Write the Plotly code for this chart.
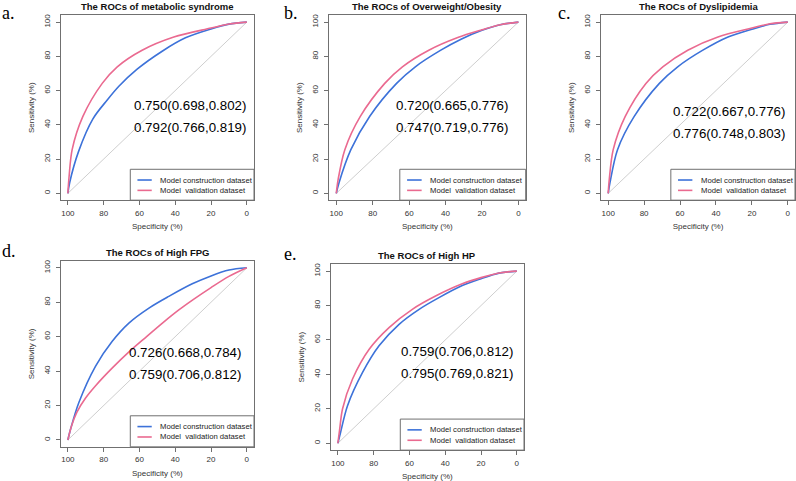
import plotly.graph_objects as go

# ---------------- data ----------------
panel_keys = ["a", "b", "c", "d", "e"]
panel_letters = ["a.", "b.", "c.", "d.", "e."]
panel_titles = ["The ROCs of metabolic syndrome", "The ROCs of Overweight/Obesity",
                "The ROCs of Dyslipidemia", "The ROCs of High FPG", "The ROCs of High HP"]
series_names = ["Model construction dataset", "Model  validation dataset"]

# metabolic syndrome
ms_con_spec = [100, 99, 94, 86, 78, 71.5, 61.3, 47.3, 34.3, 20, 10, 0]
ms_con_sens = [0, 6.2, 24.5, 43.5, 54.5, 62.5, 72.5, 83.0, 90.8, 96.0, 98.8, 100]
ms_val_spec = [100, 99.3, 97.6, 91.6, 80.8, 72.4, 58.5, 40.8, 20, 10, 0]
ms_val_sens = [0, 10, 25.5, 44.9, 64.2, 73.9, 83.6, 91.3, 96.5, 98.9, 100]
# overweight / obesity
ob_con_spec = [100, 98.5, 92, 81.7, 66.9, 56.6, 42.6, 31.5, 20, 10, 0]
ob_con_sens = [0, 6.2, 25.5, 44.9, 64.2, 73.9, 83.6, 90.0, 95.2, 98.5, 100]
ob_val_spec = [100, 99, 95.3, 86.8, 73.4, 63.7, 49.2, 33.3, 20, 10, 0]
ob_val_sens = [0, 8, 25.5, 44.9, 64.2, 73.9, 83.6, 91.0, 95.5, 98.5, 100]
# dyslipidemia
dy_con_spec = [100, 99, 94.8, 85.5, 71.5, 61.3, 47.3, 33.3, 20, 10, 0]
dy_con_sens = [0, 6.2, 25.5, 44.9, 64.2, 73.9, 83.6, 91.3, 95.8, 98.7, 100]
dy_val_spec = [100, 99.4, 97.2, 90.5, 79, 69.6, 55.7, 38.9, 20, 10, 0]
dy_val_sens = [0, 8, 25.5, 44.9, 64.2, 73.9, 83.6, 91.3, 96.5, 99, 100]
# high FPG
fpg_con_spec = [100, 98.5, 93.9, 84.5, 75.2, 65.9, 54.7, 43.6, 30.5, 20, 10, 0]
fpg_con_sens = [0, 6.2, 21.6, 42.9, 57.3, 67.9, 76.6, 83.4, 90.7, 95.3, 98.7, 100]
fpg_val_spec = [100, 98, 95, 90, 84.5, 75, 66, 56.6, 47, 38, 30, 20, 10, 0]
fpg_val_sens = [0, 8, 16, 24.5, 31.5, 42, 51, 59.5, 68, 75.5, 81.5, 88.5, 95, 100]
# high HP
hp_con_spec = [100, 98.5, 94.6, 86.2, 77, 65.8, 54.6, 43.5, 30.5, 20, 10, 0]
hp_con_sens = [0, 6.2, 21.8, 41.1, 56.6, 69.1, 77.8, 84.6, 91.6, 95.6, 98.8, 100]
hp_val_spec = [100, 99, 97.4, 91.8, 82.5, 71.4, 58.4, 45.4, 30.5, 20, 10, 0]
hp_val_sens = [0, 8, 19.9, 37.3, 54.6, 67.2, 77.8, 85.5, 92.6, 96.2, 98.9, 100]

diag_spec = [100, 0]
diag_sens = [0, 100]

auc_construction = ["0.750(0.698,0.802)", "0.720(0.665,0.776)", "0.722(0.667,0.776)",
                    "0.726(0.668,0.784)", "0.759(0.706,0.812)"]
auc_validation = ["0.792(0.766,0.819)", "0.747(0.719,0.776)", "0.776(0.748,0.803)",
                  "0.759(0.706,0.812)", "0.795(0.769,0.821)"]

tick_vals = [0, 20, 40, 60, 80, 100]
tick_text = ["0", "20", "40", "60", "80", "100"]

curves = [
    (ms_con_spec, ms_con_sens, ms_val_spec, ms_val_sens),
    (ob_con_spec, ob_con_sens, ob_val_spec, ob_val_sens),
    (dy_con_spec, dy_con_sens, dy_val_spec, dy_val_sens),
    (fpg_con_spec, fpg_con_sens, fpg_val_spec, fpg_val_sens),
    (hp_con_spec, hp_con_sens, hp_val_spec, hp_val_sens),
]

# ---------------- layout / style ----------------
W, H = 796, 481
BLUE = "#3d72d9"
PINK = "#ea6a90"
GREY = "#c8c8c8"
FONT = "Arial, Liberation Sans, sans-serif"
SERIF = "Times New Roman, Liberation Serif, serif"

# plot boxes in pixels: (left, top, right, bottom)
boxes = [(60.7, 13.3, 254, 199), (329, 13.3, 525.7, 199), (601, 13.3, 795, 199),
         (60.7, 260, 254, 446.7), (330.7, 263.3, 524, 450)]
letter_pos = [(0, 11), (281.7, 11), (556, 11), (0, 250.5), (281.7, 253)]
auc_pos = [(64.2, 51.2, 38.5), (68.4, 51.2, 38.5), (64.8, 47.8, 35.2),
           (67.0, 50.6, 38.2), (66.0, 53.1, 40.5)]

fig = go.Figure()
annotations = []
shapes = []

for i, key in enumerate(panel_keys):
    n = "" if i == 0 else str(i + 1)
    xa, ya = "x" + n, "y" + n
    l, t, r, b = boxes[i]
    con_x, con_y, val_x, val_y = curves[i]

    fig.add_trace(go.Scatter(x=diag_spec, y=diag_sens, mode="lines", xaxis=xa, yaxis=ya,
                             line=dict(color=GREY, width=0.9), showlegend=False, hoverinfo="skip"))
    fig.add_trace(go.Scatter(x=con_x, y=con_y, mode="lines", xaxis=xa, yaxis=ya, name=series_names[0],
                             line=dict(color=BLUE, width=1.6, shape="spline", smoothing=0.9),
                             showlegend=False))
    fig.add_trace(go.Scatter(x=val_x, y=val_y, mode="lines", xaxis=xa, yaxis=ya, name=series_names[1],
                             line=dict(color=PINK, width=1.6, shape="spline", smoothing=0.9),
                             showlegend=False))

    axis_common = dict(showline=True, mirror=True, linecolor="#707070", linewidth=1,
                       ticks="outside", ticklen=4, tickcolor="#707070", tickwidth=1,
                       showgrid=False, zeroline=False, tickvals=tick_vals, ticktext=tick_text,
                       tickfont=dict(family=FONT, size=8, color="#333333"))
    fig.layout["xaxis" + n] = dict(axis_common, domain=[l / W, r / W], range=[104, -4],
                                   anchor=ya, ticklabelstandoff=1,
                                   title=dict(text="Specificity (%)", standoff=6,
                                              font=dict(family=FONT, size=8, color="#333333")))
    fig.layout["yaxis" + n] = dict(axis_common, domain=[1 - b / H, 1 - t / H], range=[-4, 104],
                                   anchor=xa, tickangle=-90, ticklabelstandoff=3,
                                   title=dict(text="Sensitivity (%)", standoff=6,
                                              font=dict(family=FONT, size=8, color="#333333")))

    # title
    annotations.append(dict(text="<b>" + panel_titles[i] + "</b>", xref="paper", yref="paper",
                            x=(l + r) / 2 / W, y=1 - (t - 8.8) / H, xanchor="center", yanchor="middle",
                            showarrow=False, font=dict(family=FONT, size=9.5, color="#111111")))
    # panel letter
    lx, ly = letter_pos[i]
    annotations.append(dict(text=panel_letters[i], xref="paper", yref="paper", x=lx / W, y=1 - ly / H,
                            xanchor="left", yanchor="middle", showarrow=False,
                            font=dict(family=SERIF, size=18, color="#000000")))
    # AUC texts
    ax, ay1, ay2 = auc_pos[i]
    for txt, yy in ((auc_construction[i], ay1), (auc_validation[i], ay2)):
        annotations.append(dict(text=txt, xref=xa, yref=ya, x=ax, y=yy, xanchor="left",
                                yanchor="middle", showarrow=False,
                                font=dict(family=FONT, size=13.3, color="#000000")))
    # legend box
    shapes.append(dict(type="rect", xref=xa + " domain", yref=ya + " domain", x0=0.36, x1=1.0,
                       y0=0.0, y1=0.167, line=dict(color="#707070", width=1)))
    for name, col, yy in ((series_names[0], BLUE, 0.109), (series_names[1], PINK, 0.053)):
        shapes.append(dict(type="line", xref=xa + " domain", yref=ya + " domain", x0=0.397, x1=0.471,
                           y0=yy, y1=yy, line=dict(color=col, width=1.6)))
        annotations.append(dict(text=name, xref=xa + " domain", yref=ya + " domain", x=0.503, y=yy,
                                xanchor="left", yanchor="middle", showarrow=False,
                                font=dict(family=FONT, size=7.7, color="#222222")))

fig.update_layout(width=W, height=H, margin=dict(l=0, r=0, t=0, b=0),
                  paper_bgcolor="white", plot_bgcolor="white",
                  annotations=annotations, shapes=shapes, showlegend=False)

fig.write_html("out.html", config={"displayModeBar": False},
               post_script="document.body.style.margin='0px';")
